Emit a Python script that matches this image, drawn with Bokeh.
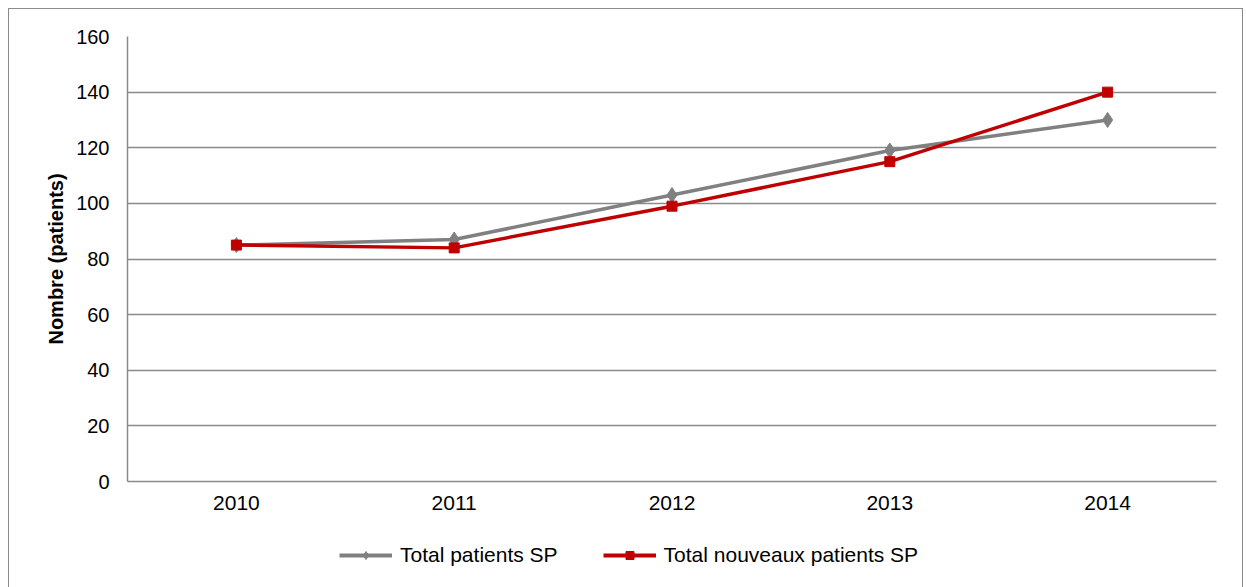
from bokeh.plotting import figure
from bokeh.layouts import column
from bokeh.models import Legend, LegendItem, FactorRange, Range1d, FixedTicker
from bokeh.embed import file_html
from bokeh.resources import INLINE

years = ["2010", "2011", "2012", "2013", "2014"]
total_patients = [85, 87, 103, 119, 130]
total_nouveaux = [85, 84, 99, 115, 140]
y_ticks = [0, 20, 40, 60, 80, 100, 120, 140, 160]

GRAY = "#808080"
RED = "#C00000"
GRID = "#8a8a8a"
FONT = "Liberation Sans"
FS = "20px"

p = figure(x_range=FactorRange(*years), y_range=Range1d(0, 160),
           width=1235, height=512, output_backend="svg", toolbar_location=None,
           min_border_left=118, min_border_right=26, min_border_top=27, min_border_bottom=40)
p.outline_line_color = None
p.background_fill_color = "white"
p.border_fill_color = "white"

p.xgrid.grid_line_color = None
p.ygrid.grid_line_color = GRID
p.ygrid.grid_line_width = 1.5
p.yaxis.ticker = FixedTicker(ticks=y_ticks)

for ax in (p.xaxis[0], p.yaxis[0]):
    ax.axis_line_color = GRID
    ax.axis_line_width = 1.5
    ax.major_tick_line_color = None
    ax.minor_tick_line_color = None
    ax.major_tick_in = 0
    ax.major_tick_out = 0
    ax.major_label_text_font = FONT
    ax.major_label_text_font_size = FS
    ax.major_label_text_color = "black"

p.xaxis.major_label_text_font_size = "21px"
p.yaxis.major_label_standoff = 18
p.xaxis.major_label_standoff = 14
p.yaxis.axis_label = "Nombre (patients)"
p.yaxis.axis_label_text_font = FONT
p.yaxis.axis_label_text_font_size = FS
p.yaxis.axis_label_text_font_style = "bold"
p.yaxis.axis_label_text_color = "black"
p.yaxis.axis_label_standoff = 6

p.line(years, total_patients, line_color=GRAY, line_width=3.5)
p.scatter(years, total_patients, marker="diamond", size=15, fill_color=GRAY, line_color=GRAY)
p.line(years, total_nouveaux, line_color=RED, line_width=3.5)
p.scatter(years, total_nouveaux, marker="square", size=10, fill_color=RED, line_color=RED)

# legend strip below the chart (its own renderers lie outside its visible range)
lg = figure(x_range=FactorRange(*years), y_range=Range1d(1000, 1001),
            width=1235, height=66, output_backend="svg", toolbar_location=None,
            min_border=0, min_border_left=0, min_border_right=0, min_border_top=0, min_border_bottom=0)
lg.axis.visible = False
lg.grid.visible = False
lg.outline_line_color = None
lg.border_fill_color = "white"
lg.background_fill_color = "white"
l1 = lg.line(years, total_patients, line_color=GRAY, line_width=4)
s1 = lg.scatter(years, total_patients, marker="diamond", size=9, fill_color=GRAY, line_color=GRAY)
l2 = lg.line(years, total_nouveaux, line_color=RED, line_width=4)
s2 = lg.scatter(years, total_nouveaux, marker="square", size=9, fill_color=RED, line_color=RED)

legend = Legend(items=[LegendItem(label="Total patients SP", renderers=[l1, s1]),
                       LegendItem(label="Total nouveaux patients SP", renderers=[l2, s2])],
                orientation="horizontal", location=(212, 20),
                label_text_font=FONT, label_text_font_size="21px", label_text_color="black",
                glyph_width=53, glyph_height=20, label_standoff=8, spacing=45,
                padding=0, margin=0, border_line_color=None, background_fill_alpha=0)
lg.add_layout(legend, "center")

layout = column(p, lg, spacing=0)
layout.styles = {"border": "1px solid #8a8a8a", "margin-left": "8px", "margin-top": "8px",
                 "width": "1235px"}

open("out.html", "w").write(file_html(layout, INLINE))
